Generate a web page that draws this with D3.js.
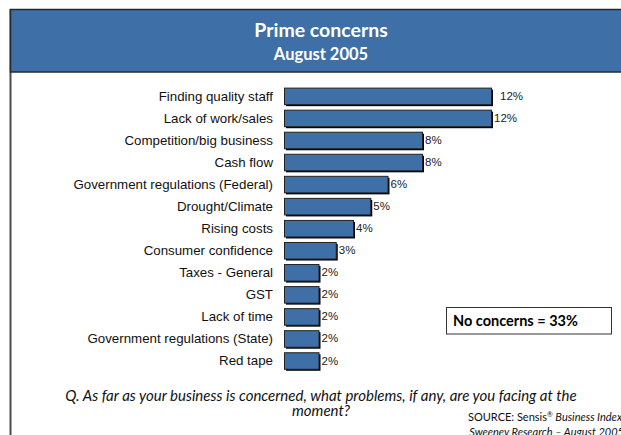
<!DOCTYPE html>
<html>
<head>
<meta charset="utf-8">
<script src="https://cdn.jsdelivr.net/npm/d3@7"></script>
<style>
  html, body { margin: 0; padding: 0; background: #fff; overflow: hidden; }
  svg { display: block; }
</style>
</head>
<body>
<svg id="chart" width="621" height="435"></svg>
<script>
// ---- data ----
const categories = [
  "Finding quality staff",
  "Lack of work/sales",
  "Competition/big business",
  "Cash flow",
  "Government regulations (Federal)",
  "Drought/Climate",
  "Rising costs",
  "Consumer confidence",
  "Taxes - General",
  "GST",
  "Lack of time",
  "Government regulations (State)",
  "Red tape"
];
const values = [12, 12, 8, 8, 6, 5, 4, 3, 2, 2, 2, 2, 2];
const valueLabels = ["12%", "12%", "8%", "8%", "6%", "5%", "4%", "3%", "2%", "2%", "2%", "2%", "2%"];
const titleText = "Prime concerns";
const subtitleText = "August 2005";
const noteText = "No concerns = 33%";
const questionLines = [
  "Q. As far as your business is concerned, what problems, if any, are you facing at the",
  "moment?"
];

// ---- drawing ----
const svg = d3.select("#chart");
const W = 621, H = 435;
const blue = "#3e6fa7";

// left frame line
svg.append("line")
  .attr("x1", 10.5).attr("x2", 10.5).attr("y1", 9).attr("y2", H)
  .attr("stroke", "#4a4a4a").attr("stroke-width", 2);

// header band
svg.append("rect")
  .attr("x", 10.5).attr("y", 9.5).attr("width", W + 10).attr("height", 62.5)
  .attr("fill", blue).attr("stroke", "#1f2a38").attr("stroke-width", 1.5);

svg.append("text")
  .attr("x", 321).attr("y", 37)
  .attr("text-anchor", "middle")
  .attr("font-family", "Lato, 'Open Sans', sans-serif")
  .attr("font-weight", 700)
  .attr("font-size", 19.5)
  .attr("fill", "#fff")
  .text(titleText);

svg.append("text")
  .attr("x", 321).attr("y", 60)
  .attr("text-anchor", "middle")
  .attr("font-family", "Lato, 'Open Sans', sans-serif")
  .attr("font-weight", 700)
  .attr("font-size", 16.5)
  .attr("fill", "#fff")
  .text(subtitleText);

// scales
const x = d3.scaleLinear().domain([0, 12]).range([284, 491]);
const y = d3.scaleBand().domain(categories).range([82.1, 374.3]).padding(0.25);

// category axis (labels only)
const yAxis = d3.axisLeft(y).tickSize(0).tickPadding(0);
const gy = svg.append("g").attr("transform", "translate(273,0)").call(yAxis);
gy.select(".domain").remove();
gy.selectAll("text")
  .attr("font-family", "'Liberation Sans', Arial, sans-serif")
  .attr("font-size", 13.3)
  .attr("fill", "#111")
  .attr("dy", "0.36em");

const rows = svg.append("g").selectAll("g")
  .data(categories.map((c, i) => ({ c, v: values[i], l: valueLabels[i], i })))
  .join("g");

// shadows
rows.append("rect")
  .attr("x", x(0) + 2)
  .attr("y", d => y(d.c) + 2)
  .attr("width", d => x(d.v) - x(0))
  .attr("height", y.bandwidth())
  .attr("fill", "#000");

// bars
rows.append("rect")
  .attr("x", x(0) + 0.5)
  .attr("y", d => y(d.c) + 0.5)
  .attr("width", d => x(d.v) - x(0))
  .attr("height", y.bandwidth())
  .attr("fill", blue)
  .attr("stroke", "#222")
  .attr("stroke-width", 1);

// value labels
rows.append("text")
  .attr("x", d => x(d.v) + (d.i === 0 ? 9 : 3))
  .attr("y", d => y(d.c) + y.bandwidth() / 2 + 4)
  .attr("font-family", "'Liberation Sans', Arial, sans-serif")
  .attr("font-size", 11.5)
  .attr("fill", "#222")
  .text(d => d.l);

// note box
svg.append("rect")
  .attr("x", 446.5).attr("y", 307.5).attr("width", 165).attr("height", 26.5)
  .attr("fill", "#fff").attr("stroke", "#333").attr("stroke-width", 1);
svg.append("text")
  .attr("x", 453).attr("y", 326)
  .attr("font-family", "Lato, 'Open Sans', sans-serif")
  .attr("font-weight", 700)
  .attr("font-size", 14.5)
  .attr("fill", "#000")
  .text(noteText);

// question
svg.append("g").selectAll("text")
  .data(questionLines)
  .join("text")
  .attr("x", 321)
  .attr("y", (d, i) => 401 + i * 15)
  .attr("text-anchor", "middle")
  .attr("font-family", "Lato, 'Open Sans', sans-serif")
  .attr("font-style", "italic")
  .attr("font-size", 15)
  .attr("fill", "#111")
  .text(d => d);

// source
const s1 = svg.append("text")
  .attr("x", 622).attr("y", 421)
  .attr("text-anchor", "end")
  .attr("font-family", "Lato, 'Open Sans', sans-serif")
  .attr("font-size", 11)
  .attr("fill", "#111");
s1.append("tspan").text("SOURCE: Sensis");
s1.append("tspan").attr("font-size", 7).attr("dy", -4).text("®");
s1.append("tspan").attr("dy", 4).attr("font-style", "italic").text(" Business Index");

svg.append("text")
  .attr("x", 624).attr("y", 436)
  .attr("text-anchor", "end")
  .attr("font-family", "Lato, 'Open Sans', sans-serif")
  .attr("font-style", "italic")
  .attr("font-size", 11)
  .attr("fill", "#111")
  .text("Sweeney Research \u2013 August 2005");
</script>
</body>
</html>
